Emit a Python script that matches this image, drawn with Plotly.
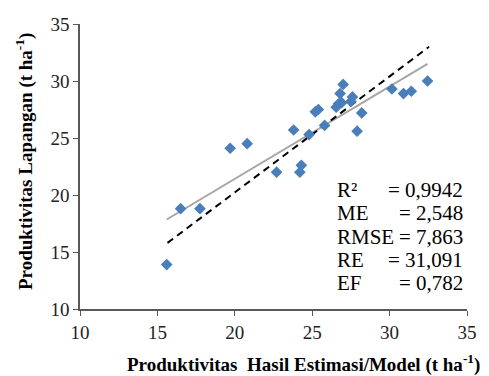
import plotly.graph_objects as go

# Observed data (model estimate vs field productivity, t/ha)
x_model = [15.6, 16.5, 17.75, 19.7, 20.8, 22.7, 23.8, 24.2, 24.3, 24.8,
           25.2, 25.4, 25.8, 26.55, 26.7, 26.9, 26.8, 27.0, 27.5, 27.6,
           27.9, 28.2, 30.15, 30.9, 31.4, 32.45]
y_field = [13.9, 18.8, 18.8, 24.1, 24.5, 22.0, 25.7, 22.0, 22.6, 25.3,
           27.3, 27.5, 26.1, 27.7, 28.0, 28.1, 28.9, 29.7, 28.2, 28.6,
           25.6, 27.2, 29.3, 28.9, 29.1, 30.0]

# Trend line (grey, solid) endpoints
trend_x = [15.6, 32.45]
trend_y = [17.85, 31.5]

# Dashed reference line endpoints
ref_x = [15.65, 32.55]
ref_y = [15.8, 33.0]

# Statistics box
stat_labels = ["R²", "ME", "RMSE", "RE", "EF"]
stat_values = ["= 0,9942", "= 2,548", "= 7,863", "= 31,091", "= 0,782"]
stat_y = [20.45, 18.4, 16.35, 14.3, 12.25]

tick_vals = [10, 15, 20, 25, 30, 35]
tick_text = ["10", "15", "20", "25", "30", "35"]

FONT = "Liberation Serif"

fig = go.Figure()
fig.add_trace(go.Scatter(x=trend_x, y=trend_y, mode="lines",
                         line=dict(color="#A6A6A6", width=2), showlegend=False))
fig.add_trace(go.Scatter(x=ref_x, y=ref_y, mode="lines",
                         line=dict(color="#000000", width=2, dash="7px,5px"), showlegend=False))
fig.add_trace(go.Scatter(x=x_model, y=y_field, mode="markers",
                         marker=dict(symbol="diamond", size=9, color="#4A7EBB"),
                         showlegend=False))

annotations = []
for lab, val, yy in zip(stat_labels, stat_values, stat_y):
    annotations.append(dict(x=26.5, y=yy, xref="x", yref="y", text=lab, showarrow=False,
                            xanchor="left", yanchor="middle",
                            font=dict(family=FONT, size=21, color="#000")))
    annotations.append(dict(x=34.9, y=yy, xref="x", yref="y", text=val, showarrow=False,
                            xanchor="right", yanchor="middle",
                            font=dict(family=FONT, size=21, color="#000")))

annotations.append(dict(x=0.578, y=-0.19, xref="paper", yref="paper",
                        text="<b>Produktivitas\u00a0 Hasil Estimasi/Model (t ha<sup>-1</sup>)</b>",
                        showarrow=False, xanchor="center", yanchor="middle",
                        font=dict(family=FONT, size=19, color="#000")))
annotations.append(dict(x=-0.142, y=0.516, xref="paper", yref="paper",
                        text="<b>Produktivitas Lapangan (t ha<sup>-1</sup>)</b>",
                        showarrow=False, xanchor="center", yanchor="middle", textangle=-90,
                        font=dict(family=FONT, size=19, color="#000")))

axis_common = dict(range=[10, 35], tickvals=tick_vals, ticktext=tick_text,
                   showgrid=False, zeroline=False, showline=True, linecolor="#595959",
                   linewidth=1.5, ticks="outside", ticklen=5, tickcolor="#595959",
                   tickfont=dict(family=FONT, size=19, color="#222"))

fig.update_layout(
    width=489, height=376,
    margin=dict(l=80, r=20, t=24, b=67),
    paper_bgcolor="white", plot_bgcolor="white",
    xaxis=dict(**axis_common),
    yaxis=dict(**axis_common),
    annotations=annotations,
)

fig.write_html("out.html")
